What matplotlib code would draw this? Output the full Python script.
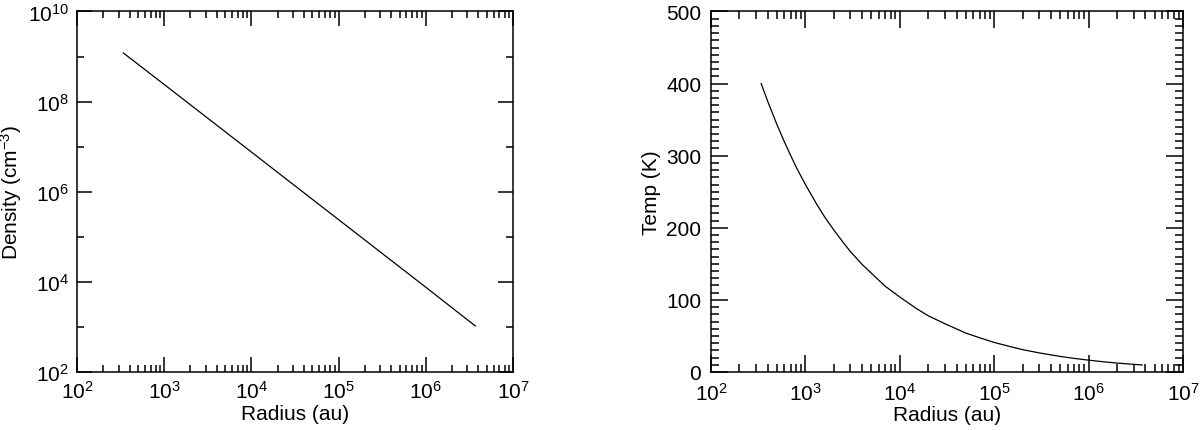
import matplotlib
import matplotlib.pyplot as plt
import matplotlib.ticker as mticker

matplotlib.use("Agg")

plt.rcParams["font.family"] = ["Liberation Sans", "DejaVu Sans"]
plt.rcParams["mathtext.fontset"] = "custom"
plt.rcParams["mathtext.rm"] = "Liberation Sans"
plt.rcParams["mathtext.it"] = "Liberation Sans"
plt.rcParams["mathtext.default"] = "regular"

# Density profile
radius_dens = [340, 1e3, 1e4, 1e5, 1e6, 3.7e6]
density = [1.2e9, 2.4e8, 7.6e6, 2.4e5, 7.6e3, 1.05e3]

# Temperature profile
radius_temp = [340, 400, 500, 600, 700, 800, 1000, 1300, 1600, 2000, 2500, 3000,
               4000, 5000, 7000, 1e4, 1.5e4, 2e4, 3e4, 5e4, 7e4, 1e5, 1.5e5,
               2e5, 3e5, 5e5, 7e5, 1e6, 1.5e6, 2e6, 3e6, 3.7e6]
temp = [400, 375, 343, 319, 300, 284, 260, 234, 215, 197, 180, 167,
        149, 137, 119, 104, 88, 78, 67, 54, 47.5, 41, 35,
        31, 26.5, 21.6, 18.9, 16.4, 13.9, 12.4, 10.6, 9.7]

dens_major = [1e2, 1e4, 1e6, 1e8, 1e10]
dens_minor = [1e3, 1e5, 1e7, 1e9]

fig = plt.figure(figsize=(12, 4.31), dpi=100)
ax1 = fig.add_axes([0.0642, 0.1346, 0.3633, 0.8364])
ax2 = fig.add_axes([0.5925, 0.1346, 0.3933, 0.8364])

FS = 15


def style_xlog(ax):
    ax.set_xscale("log")
    ax.set_xlim(1e2, 1e7)
    ax.xaxis.set_major_locator(mticker.LogLocator(base=10, numticks=10))
    ax.xaxis.set_minor_locator(
        mticker.LogLocator(base=10, subs=range(2, 10), numticks=20))
    ax.xaxis.set_minor_formatter(mticker.NullFormatter())
    ax.xaxis.set_major_formatter(mticker.LogFormatterMathtext())
    ax.set_xlabel("Radius (au)", fontsize=FS, labelpad=1)
    for s in ax.spines.values():
        s.set_linewidth(1.1)


# Left panel: density
ax1.plot(radius_dens, density, color="black", lw=0.9)
style_xlog(ax1)
ax1.set_yscale("log")
ax1.set_ylim(1e2, 1e10)
ax1.yaxis.set_major_locator(mticker.FixedLocator(dens_major))
ax1.yaxis.set_minor_locator(mticker.FixedLocator(dens_minor))
ax1.yaxis.set_major_formatter(mticker.LogFormatterMathtext())
ax1.yaxis.set_minor_formatter(mticker.NullFormatter())
ax1.set_ylabel("Density (cm$^{-3}$)", fontsize=FS)
ax1.yaxis.set_label_coords(-0.122, 0.5)
ax1.tick_params(which="both", direction="in", top=True, right=True,
                labelsize=FS, width=1.1)
ax1.tick_params(which="major", length=11, pad=6)
ax1.tick_params(which="minor", length=5)

# Right panel: temperature
ax2.plot(radius_temp, temp, color="black", lw=0.9)
style_xlog(ax2)
ax2.set_ylim(0, 500)
ax2.yaxis.set_major_locator(mticker.MultipleLocator(100))
ax2.yaxis.set_minor_locator(mticker.MultipleLocator(10))
ax2.set_ylabel("Temp (K)", fontsize=FS, labelpad=4)
ax2.tick_params(which="both", direction="in", top=True, right=True,
                labelsize=FS, width=1.1)
ax2.tick_params(which="major", length=12, pad=7)
ax2.tick_params(which="minor", length=6)

fig.savefig("out.png", dpi=100)
plt.close(fig)
